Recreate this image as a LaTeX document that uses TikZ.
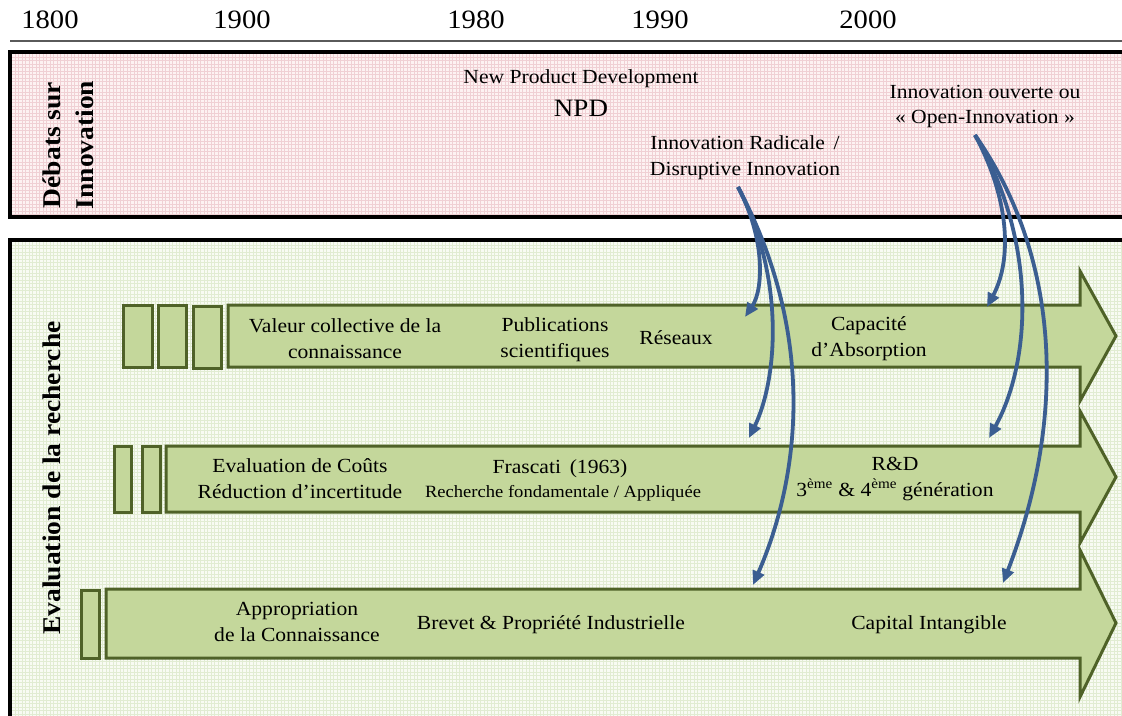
\documentclass[tikz,border=0pt]{standalone}
\usepackage{fontspec}
\setmainfont[FakeStretch=1.08]{Liberation Serif}
\usetikzlibrary{arrows.meta}
\definecolor{pinkbg}{RGB}{253,242,242}
\definecolor{pinkln}{RGB}{240,208,212}
\definecolor{greenbg}{RGB}{248,251,243}
\definecolor{greenln}{RGB}{225,236,210}
\definecolor{arrfill}{RGB}{196,215,155}
\definecolor{arrdraw}{RGB}{79,98,40}
\definecolor{blueln}{RGB}{59,94,145}
\definecolor{rulegray}{RGB}{90,90,90}
\tikzset{
 yr/.style={font=\fontsize{26.5}{26}\selectfont, anchor=base, inner sep=0},
 txt/.style={font=\fontsize{20}{26}\selectfont, align=center, inner sep=0},
 sml/.style={font=\fontsize{20}{26}\selectfont, align=center, inner sep=0},
 tiny/.style={font=\fontsize{17.2}{20}\selectfont, align=center, inner sep=0},
 side/.style={font=\bfseries\fontsize{25.5}{33}\selectfont, rotate=90, align=center, inner sep=0},
 blk/.style={fill=arrfill, draw=arrdraw, line width=3pt, line join=miter},
 link/.style={draw=blueln, line width=3.8pt, -{Triangle[length=14pt,width=12pt]}},
}
\begin{document}
\begin{tikzpicture}[x=1pt,y=-1pt]
\useasboundingbox (0,0) rectangle (1122,715);
\clip (0,0) rectangle (1122,715);
\fill[white] (0,0) rectangle (1122,715);
% timeline
\draw[rulegray, line width=1.5pt] (10,41) -- (1122,41);
\node[yr] (y1800) at (50,28) {1800};
\node[yr] (y1900) at (242,28) {1900};
\node[yr] (y1980) at (476,28) {1980};
\node[yr] (y1990) at (660,28) {1990};
\node[yr] (y2000) at (868,28) {2000};
% pink box
\fill[pinkbg] (10,52) rectangle (1135,217);
\draw[pinkln, line width=0.8pt]
  foreach \x in {11.5,15,...,1135} {(\x,52) -- (\x,217)}
  foreach \y in {53.5,57,...,217} {(10,\y) -- (1135,\y)};
\draw[line width=3.5pt] (10,52) rectangle (1135,217);
% green box
\fill[greenbg] (10,240) rectangle (1135,730);
\draw[greenln, line width=0.8pt]
  foreach \x in {11.5,15,...,1135} {(\x,240) -- (\x,730)}
  foreach \y in {241.5,245,...,730} {(10,\y) -- (1135,\y)};
\draw[line width=3.5pt] (10,240) rectangle (1135,730);
% side labels
\node[side] (deb) at (68,145) {Débats sur\\Innovation};
\node[side] (eval) at (52,478) {Evaluation de la recherche};
% block arrow 1
\draw[blk] (123,305) rectangle (152,367);
\draw[blk] (158,305) rectangle (186,367);
\draw[blk] (193,306) rectangle (221,368);
\draw[blk] (228,305) -- (1080,305) -- (1080,271) -- (1116,336) -- (1080,401) -- (1080,367) -- (228,367) -- cycle;
% block arrow 2
\draw[blk] (114,446) rectangle (131,512);
\draw[blk] (142,446) rectangle (160,512);
\draw[blk] (166,446) -- (1080,446) -- (1080,411) -- (1116,477) -- (1080,543) -- (1080,512) -- (166,512) -- cycle;
% block arrow 3
\draw[blk] (81,590) rectangle (99,658);
\draw[blk] (106,589) -- (1080,589) -- (1080,550) -- (1116,623) -- (1080,697) -- (1080,658) -- (106,658) -- cycle;
% top texts
\node[sml] (npd1) at (581,79) {New Product Development};
\node[font=\fontsize{25}{25}\selectfont, inner sep=0] (npd) at (581,108) {NPD};
\node[sml] (disr) at (745,158) {Innovation Radicale \,/\\Disruptive Innovation};
\node[sml, font=\fontsize{20}{25}\selectfont] (open) at (985,107) {Innovation ouverte ou\\« Open-Innovation »};
% arrow 1 texts
\node[txt] (val) at (345,339) {Valeur collective de la\\connaissance};
\node[txt] (pub) at (555,340) {Publications\\scientifiques};
\node[txt] (res) at (676,338) {Réseaux};
\node[txt] (cap) at (869,339) {Capacité\\d’Absorption};
% arrow 2 texts
\node[txt] (cout) at (300,479) {Evaluation de Coûts\\Réduction d’incertitude};
\node[txt] (fra) at (560,469) {Frascati \,(1963)};
\node[tiny] (fond) at (563,493) {Recherche fondamentale / Appliquée};
\node[txt] (rd) at (895,479) {R\&D\\3\textsuperscript{ème} \& 4\textsuperscript{ème} génération};
% arrow 3 texts
\node[txt] (app) at (297,622) {Appropriation\\de la Connaissance};
\node[txt] (brev) at (551,625) {Brevet \& Propriété Industrielle};
\node[txt] (capi) at (929,625) {Capital Intangible};
% connectors
\coordinate (s1) at (738,187);
\coordinate (e11) at (745,317);
\coordinate (e12) at (749,438);
\coordinate (e13) at (753,585);
\coordinate (s2) at (975,135);
\coordinate (e21) at (987,307);
\coordinate (e22) at (989,438);
\coordinate (e23) at (1003,583);
\draw[link] (s1) .. controls (766,240) and (763,290) .. (e11);
\draw[link] (s1) .. controls (786,280) and (777,380) .. (e12);
\draw[link] (s1) .. controls (814,330) and (803,470) .. (e13);
\draw[link] (s2) .. controls (1010,200) and (1012,260) .. (e21);
\draw[link] (s2) .. controls (1037,240) and (1032,360) .. (e22);
\draw[link] (s2) .. controls (1062,260) and (1066,420) .. (e23);
\end{tikzpicture}
\end{document}
